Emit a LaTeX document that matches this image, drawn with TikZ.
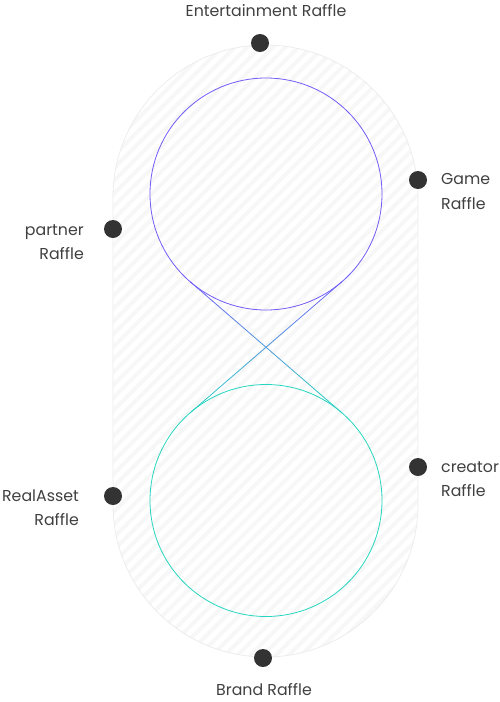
\documentclass[tikz,border=0pt]{standalone}
\usepackage{fontspec}
\setmainfont{Poppins}
\usetikzlibrary{calc,patterns.meta}
\definecolor{cpurple}{RGB}{112,92,248}
\definecolor{cteal}{RGB}{38,214,192}
\definecolor{dotc}{RGB}{51,51,51}
\definecolor{txtc}{RGB}{64,64,64}
\definecolor{ringc}{RGB}{236,236,236}
\definecolor{stripec}{RGB}{247,247,247}
\begin{document}
\begin{tikzpicture}[x=1pt,y=1pt,
  dotnode/.style={circle,fill=dotc,inner sep=0pt,minimum size=18pt},
  lbl/.style={font=\fontsize{15.8}{24.5}\selectfont,text=txtc,inner sep=0pt,align=#1},
  lbl/.default=left]
\useasboundingbox (0,0) rectangle (500,-702);
% stadium background
\path[pattern={Lines[angle=45,distance=9pt,line width=4pt]},pattern color=stripec]
  (113,-197.5) arc[start angle=180,end angle=0,radius=152.5] -- (418,-504.5)
  arc[start angle=0,end angle=-180,radius=152.5] -- cycle;
\draw[ringc,line width=0.8pt]
  (113,-197.5) arc[start angle=180,end angle=0,radius=152.5] -- (418,-504.5)
  arc[start angle=0,end angle=-180,radius=152.5] -- cycle;
% circles
\node (topc) [circle,draw=cpurple,line width=0.8pt,minimum size=232pt,inner sep=0pt] at (266,-194) {};
\node (botc) [circle,draw=cteal,line width=0.8pt,minimum size=232pt,inner sep=0pt] at (266,-500.5) {};
% tangent crossing lines
\coordinate (X) at (266,-347.25);
\coordinate (TL) at (190.2,-281.75);
\coordinate (TR) at (341.8,-281.75);
\coordinate (BL) at (190.2,-412.75);
\coordinate (BR) at (341.8,-412.75);
\foreach \i in {0,...,19}{
  \pgfmathtruncatemacro{\pc}{100-5*\i-2}
  \draw[cpurple!\pc!cteal,line width=0.8pt] ($(TL)!\i/20!(BR)$) -- ($(TL)!\i/20+0.051!(BR)$);
  \draw[cpurple!\pc!cteal,line width=0.8pt] ($(TR)!\i/20!(BL)$) -- ($(TR)!\i/20+0.051!(BL)$);
}
% dots
\node (d1) [dotnode] at (260,-43) {};
\node (d2) [dotnode] at (418,-180) {};
\node (d3) [dotnode] at (113,-229) {};
\node (d4) [dotnode] at (418,-467) {};
\node (d5) [dotnode] at (113,-496) {};
\node (d6) [dotnode] at (263,-658) {};
% labels
\node (l1) [lbl=center] at (266,-11) {Entertainment Raffle};
\node (l2) [lbl=left,anchor=north west] at (441,-173.5) {Game\\Raffle};
\node (l3) [lbl=right,anchor=north east] at (84,-224) {partner\\Raffle};
\node (l4) [lbl=left,anchor=north west] at (441,-461) {creator\\Raffle};
\node (l5) [lbl=right,anchor=north east] at (79,-489.5) {RealAsset\\Raffle};
\node (l6) [lbl=center] at (264,-690) {Brand Raffle};
\end{tikzpicture}
\end{document}
